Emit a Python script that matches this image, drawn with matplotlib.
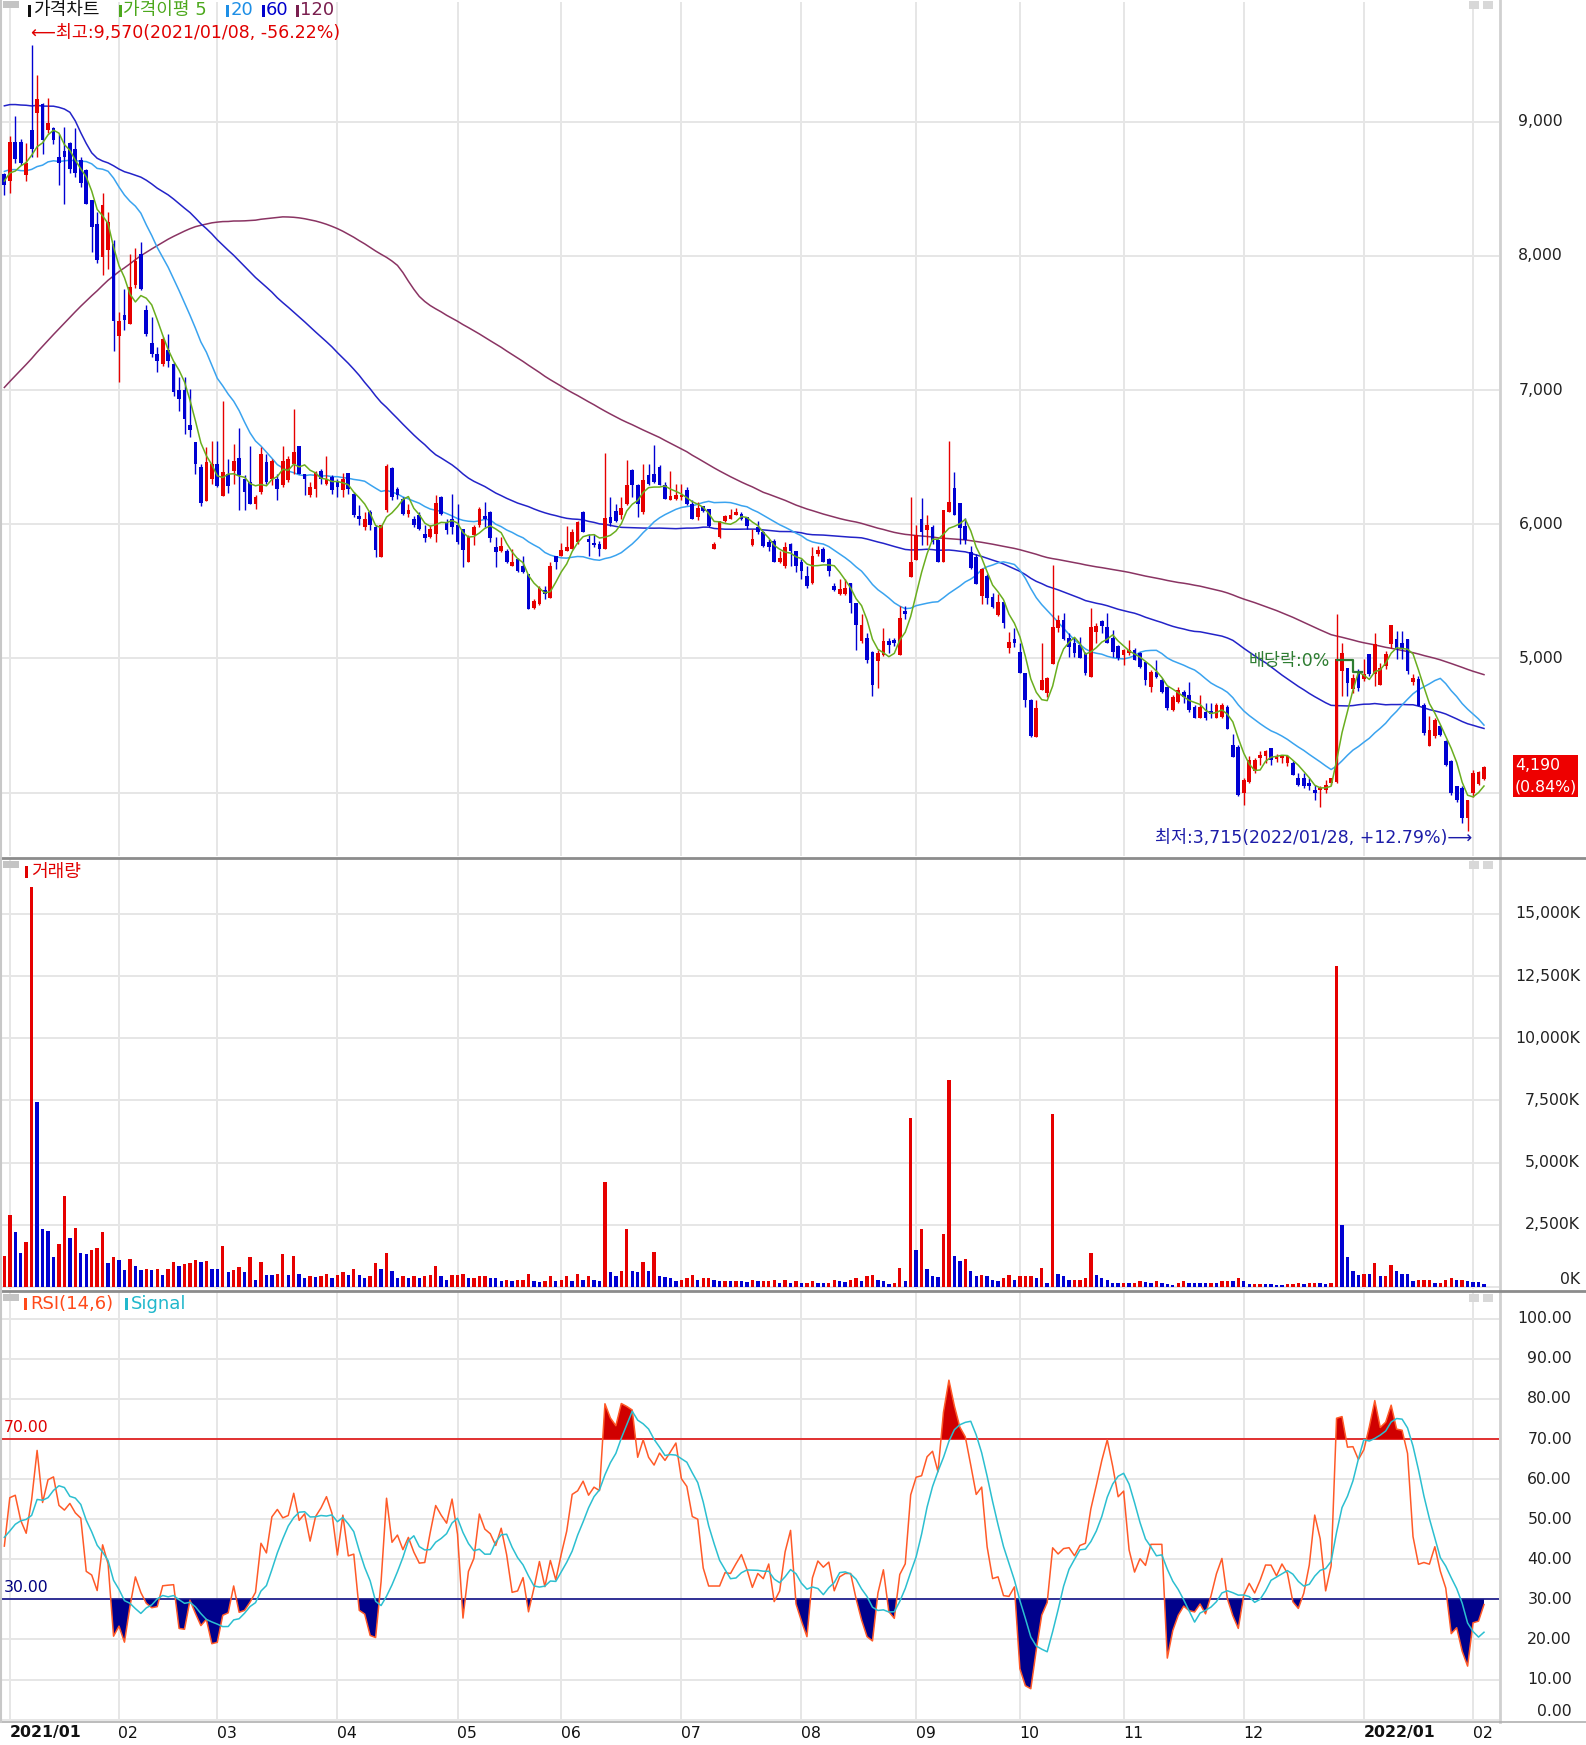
import numpy as np
import pandas as pd
import matplotlib
matplotlib.use("Agg")
import matplotlib.pyplot as plt
from matplotlib.transforms import blended_transform_factory
from matplotlib.patches import Rectangle
from matplotlib.lines import Line2D

plt.rcParams['font.family'] = ['DejaVu Sans', 'Noto Sans CJK KR']

# 휴장일 (KRX)
holidays = ['2020-12-31', '2021-01-01', '2021-02-11', '2021-02-12', '2021-03-01',
            '2021-05-05', '2021-05-19', '2021-08-16', '2021-09-20', '2021-09-21',
            '2021-09-22', '2021-10-04', '2021-10-11', '2021-12-31', '2022-01-31',
            '2022-02-01', '2022-02-02']

# closes before 2020/12/30 (only used to warm up the moving averages / RSI)
pre_closes = [3600, 3530, 3560, 3650, 3610, 3540, 3500, 3570, 3630, 3700, 3640, 3580, 3520, 3550,
              3610, 3660, 3590, 3540, 3570, 3620, 3680, 3630,
              4150, 4210, 4180, 4260, 4320, 4280, 4350, 4410, 4380, 4450, 4520, 4480, 4560, 4620,
              4950, 5400, 5300, 5650, 5900, 6200, 6050, 6350, 6100, 5900,
              5850, 5700, 5800, 5950, 5750, 5900, 6600, 6800, 6900, 7100, 7300, 7400, 7700, 7900, 8100,
              8300, 8700, 8900, 8800, 9100, 8900, 9200, 9000, 8900, 9200, 9500, 10100,
              12500, 13800, 13200, 12400,
              10400, 9600, 9100, 8800, 9000, 8700, 8500, 8800, 8600,
              8800, 8950, 9100, 8900, 8700, 8850, 9000, 8800, 8650, 8900, 8750, 8600, 8800, 8950,
              8750, 8600, 8700, 8850, 8700,
              8600, 8750, 8650, 8500, 8700, 8800, 8650, 8550, 8700, 8600, 8450, 8550, 8650, 8500, 8560]

# daily candles 2020/12/30 ~ 2022/02/07
opens = [8610, 8560, 8850, 8850, 8600, 8938, 9062, 9132, 8940, 8950,
         8740, 8780, 8838, 8800, 8714, 8640, 8415, 8240, 7992, 8040,
         8091, 7406, 7560, 7494, 7780, 8016, 7593, 7350, 7270, 7195,
         7300, 7195, 7000, 7000, 6740, 6610, 6430, 6174, 6336, 6448,
         6211, 6373, 6398, 6494, 6340, 6313, 6153, 6239, 6462, 6338,
         6338, 6289, 6326, 6449, 6585, 6375, 6214, 6264, 6400, 6301,
         6350, 6313, 6252, 6382, 6227, 6060, 5980, 6091, 5980, 5758,
         6103, 6417, 6264, 6190, 6079, 6042, 6066, 5930, 5906, 5930,
         6202, 6017, 6042, 5992, 5967, 5721, 5918, 5992, 6060, 6090,
         5828, 5800, 5802, 5690, 5740, 5690, 5628, 5378, 5403, 5510,
         5453, 5765, 5765, 5802, 5815, 5865, 6090, 5890, 5855, 5852,
         5815, 6050, 6102, 6065, 6152, 6407, 6290, 6090, 6370, 6377,
         6427, 6290, 6177, 6190, 6200, 6252, 6152, 6050, 6135, 6110,
         5815, 5902, 6027, 6040, 6065, 6077, 6052, 5845, 5977, 5940,
         5865, 5877, 5715, 5690, 5852, 5802, 5715, 5615, 5565, 5780,
         5815, 5740, 5540, 5477, 5477, 5565, 5410, 5127, 5152, 5045,
         4977, 5027, 5127, 5140, 5027, 5352, 5606, 5731, 6042, 5955,
         5980, 5880, 5718, 6092, 6267, 6155, 5990, 5795, 5752, 5465,
         5615, 5460, 5324, 5423, 5075, 5142, 5050, 4888, 4689, 4415,
         4763, 4739, 4958, 5224, 5286, 5149, 5112, 5100, 5037, 4863,
         5199, 5281, 5237, 5149, 5092, 5025, 5037, 5062, 5037, 4975,
         4788, 4900, 4838, 4788, 4614, 4676, 4751, 4726, 4639, 4552,
         4602, 4609, 4552, 4564, 4639, 4353, 4340, 3995, 4082, 4157,
         4257, 4269, 4332, 4250, 4260, 4220, 4220, 4107, 4107, 4070,
         4020, 4020, 4020, 4070, 4082, 4905, 4930, 4768, 4905, 4843,
         5030, 4880, 4805, 4943, 5105, 5147, 5117, 5142, 4823, 4843,
         4656, 4344, 4419, 4494, 4382, 4232, 4045, 4032, 3808, 3995,
         4065, 4100]

highs = [8620, 8890, 9040, 8870, 8840, 9570, 9350, 9140, 9175, 8960,
         8910, 8960, 8850, 8950, 8740, 8650, 8420, 8328, 8472, 8328,
         8120, 7581, 7755, 8016, 8060, 8104, 7630, 7543, 7320, 7394,
         7419, 7207, 7100, 7100, 7008, 6610, 6448, 6573, 6622, 6622,
         6921, 6485, 6597, 6720, 6363, 6585, 6214, 6573, 6523, 6487,
         6375, 6585, 6511, 6862, 6585, 6375, 6314, 6400, 6412, 6506,
         6363, 6338, 6380, 6382, 6239, 6140, 6091, 6103, 5992, 5992,
         6449, 6425, 6276, 6202, 6153, 6060, 6091, 5992, 5992, 6215,
         6209, 6042, 6227, 6153, 5967, 5918, 5992, 6128, 6165, 6097,
         5902, 5902, 5815, 5815, 5745, 5765, 5628, 5440, 5540, 5540,
         5720, 5765, 5860, 5990, 5965, 6027, 6095, 5927, 5927, 5877,
         6527, 6202, 6152, 6202, 6482, 6415, 6302, 6452, 6452, 6590,
         6440, 6315, 6395, 6302, 6302, 6277, 6177, 6165, 6135, 6115,
         5865, 6027, 6065, 6115, 6120, 6090, 6057, 5965, 6027, 5952,
         5890, 5890, 5802, 5865, 5860, 5802, 5740, 5690, 5827, 5840,
         5827, 5745, 5565, 5590, 5595, 5565, 5415, 5327, 5190, 5052,
         5065, 5227, 5152, 5152, 5390, 5390, 6205, 5993, 6192, 6067,
         5993, 5893, 6105, 6621, 6392, 6155, 6045, 5840, 5777, 5677,
         5627, 5490, 5477, 5423, 5199, 5224, 5112, 4888, 4694, 4689,
         5112, 4863, 5697, 5324, 5336, 5187, 5162, 5162, 5050, 5373,
         5261, 5286, 5336, 5212, 5100, 5070, 5137, 5075, 5050, 4975,
         4913, 4988, 4851, 4788, 4726, 4788, 4763, 4826, 4651, 4726,
         4664, 4664, 4664, 4664, 4651, 4440, 4353, 4107, 4269, 4257,
         4307, 4319, 4332, 4290, 4282, 4282, 4232, 4145, 4145, 4107,
         4057, 4045, 4095, 4107, 5329, 5117, 4930, 4880, 4918, 4993,
         5030, 5192, 4968, 5055, 5247, 5205, 5205, 5142, 4880, 4868,
         4668, 4569, 4556, 4506, 4394, 4244, 4045, 4045, 3945, 4170,
         4157, 4195]

lows = [8450, 8465, 8690, 8680, 8560, 8740, 8740, 8760, 8913, 8830,
        8527, 8390, 8614, 8590, 8515, 8385, 8030, 7947, 7854, 7905,
        7294, 7058, 7444, 7494, 7760, 7742, 7406, 7245, 7132, 7182,
        7170, 6958, 6846, 6673, 6647, 6373, 6137, 6170, 6300, 6274,
        6211, 6236, 6298, 6103, 6103, 6153, 6116, 6227, 6300, 6289,
        6178, 6276, 6314, 6375, 6375, 6219, 6202, 6202, 6301, 6289,
        6227, 6202, 6202, 6227, 6054, 5992, 5955, 5955, 5758, 5758,
        6091, 6178, 6190, 6066, 6054, 5980, 5955, 5868, 5894, 5868,
        6066, 5930, 5930, 5856, 5683, 5721, 5844, 5980, 5980, 5869,
        5678, 5790, 5710, 5685, 5640, 5635, 5365, 5365, 5395, 5440,
        5453, 5665, 5760, 5802, 5815, 5852, 5940, 5765, 5827, 5765,
        5815, 5990, 6015, 6040, 6145, 6202, 6052, 6077, 6295, 6310,
        6290, 6190, 6177, 6177, 6177, 6145, 6035, 6030, 6090, 5977,
        5815, 5895, 6020, 6040, 6065, 6030, 5965, 5840, 5927, 5827,
        5802, 5715, 5710, 5677, 5690, 5640, 5590, 5528, 5552, 5765,
        5715, 5615, 5502, 5470, 5470, 5340, 5065, 5115, 4965, 4720,
        4777, 5015, 5040, 5090, 5027, 5290, 5606, 5731, 5843, 5843,
        5856, 5718, 5718, 6092, 6067, 5856, 5852, 5665, 5552, 5402,
        5402, 5373, 5316, 5224, 5037, 5087, 4888, 4639, 4415, 4415,
        4763, 4714, 4958, 5199, 5137, 5012, 5012, 5000, 4875, 4863,
        5112, 5187, 5112, 5012, 4988, 4950, 5025, 4988, 4925, 4801,
        4751, 4851, 4739, 4614, 4609, 4664, 4664, 4602, 4552, 4552,
        4539, 4552, 4552, 4552, 4477, 4265, 3972, 3908, 4070, 4145,
        4207, 4220, 4207, 4230, 4220, 4200, 4132, 4045, 4032, 4020,
        3945, 3895, 3995, 4057, 4070, 4718, 4718, 4740, 4755, 4830,
        4868, 4793, 4798, 4918, 5080, 4993, 4993, 4880, 4805, 4643,
        4431, 4344, 4406, 4419, 4195, 3983, 3933, 3770, 3715, 3970,
        4057, 4090]

closes = [8530, 8850, 8720, 8690, 8690, 8800, 9167, 8863, 8990, 8863,
          8690, 8740, 8651, 8620, 8540, 8390, 8215, 7967, 8378, 8253,
          7518, 7518, 7520, 7767, 7960, 7755, 7419, 7270, 7220, 7381,
          7220, 6983, 6933, 6784, 6700, 6448, 6160, 6460, 6448, 6286,
          6386, 6286, 6473, 6363, 6240, 6153, 6202, 6523, 6313, 6474,
          6264, 6474, 6486, 6536, 6375, 6338, 6276, 6387, 6338, 6338,
          6252, 6276, 6338, 6264, 6066, 6042, 6042, 5992, 5807, 5992,
          6432, 6202, 6214, 6079, 6103, 5992, 5967, 5900, 5963, 6160,
          6079, 5955, 5980, 5869, 5807, 5906, 5980, 6110, 6042, 5900,
          5790, 5840, 5715, 5720, 5652, 5640, 5365, 5428, 5528, 5478,
          5690, 5715, 5810, 5828, 5940, 6015, 5940, 5870, 5845, 5815,
          6045, 6010, 6027, 6120, 6295, 6290, 6150, 6327, 6302, 6315,
          6290, 6190, 6210, 6220, 6215, 6152, 6040, 6120, 6102, 5990,
          5850, 6027, 6060, 6070, 6090, 6040, 5990, 5890, 5940, 5840,
          5827, 5715, 5745, 5832, 5802, 5690, 5652, 5540, 5765, 5810,
          5715, 5652, 5510, 5520, 5527, 5415, 5252, 5252, 4990, 4802,
          5040, 5127, 5102, 5115, 5302, 5327, 5718, 5918, 5943, 5993,
          5868, 5718, 6105, 6162, 6067, 5968, 5880, 5677, 5552, 5665,
          5452, 5386, 5423, 5261, 5124, 5112, 4888, 4689, 4420, 4627,
          4838, 4851, 5232, 5286, 5142, 5087, 5037, 5000, 4888, 5232,
          5242, 5242, 5112, 5050, 5000, 5060, 5062, 4988, 4938, 4838,
          4900, 4863, 4751, 4627, 4714, 4763, 4714, 4614, 4552, 4639,
          4552, 4589, 4651, 4651, 4477, 4265, 3980, 4095, 4244, 4239,
          4282, 4307, 4244, 4275, 4282, 4270, 4132, 4057, 4045, 4045,
          3995, 4032, 4057, 4107, 4993, 5042, 4818, 4855, 4780, 4880,
          4880, 5105, 4930, 5030, 5247, 5080, 5080, 4905, 4855, 4648,
          4444, 4469, 4544, 4431, 4207, 3995, 3945, 3808, 3945, 4145,
          4155, 4190]

# 거래량 (천주)
volumes = [1260, 2890, 2220, 1370, 1800, 16080, 7440, 2330, 2260, 1200,
           1730, 3660, 1970, 2390, 1370, 1320, 1500, 1560, 2220, 960,
           1200, 1090, 665, 1130, 840, 665, 730, 665, 730, 490,
           730, 1020, 840, 920, 970, 1090, 1000, 1030, 730, 720,
           1640, 600, 665, 800, 600, 1200, 290, 1020, 490, 480,
           530, 1330, 490, 1260, 530, 360, 425, 420, 430, 530,
           360, 465, 600, 465, 730, 465, 360, 425, 960, 730,
           1370, 650, 360, 425, 360, 425, 360, 425, 465, 840,
           425, 290, 465, 470, 530, 360, 365, 425, 430, 360,
           355, 225, 290, 225, 290, 295, 530, 225, 220, 230,
           425, 225, 290, 425, 225, 530, 290, 425, 290, 225,
           4220, 600, 425, 650, 2330, 650, 600, 1020, 650, 1420,
           425, 420, 360, 225, 290, 360, 465, 290, 360, 365,
           290, 225, 230, 225, 230, 225, 220, 290, 225, 230,
           235, 290, 175, 290, 175, 225, 175, 180, 225, 175,
           170, 175, 290, 225, 220, 290, 360, 225, 425, 465,
           290, 225, 105, 175, 770, 225, 6810, 1500, 2330, 730,
           425, 420, 2150, 8340, 1260, 1060, 1130, 650, 425, 465,
           425, 290, 225, 360, 465, 290, 425, 430, 435, 360,
           770, 175, 6950, 530, 425, 290, 295, 300, 360, 1370,
           465, 360, 290, 175, 170, 175, 170, 175, 225, 220,
           175, 225, 175, 105, 100, 175, 225, 175, 170, 165,
           160, 175, 170, 225, 230, 225, 360, 225, 105, 110,
           115, 110, 105, 100, 95, 105, 110, 175, 105, 175,
           180, 175, 105, 175, 12900, 2510, 1200, 650, 465, 530,
           525, 960, 425, 430, 890, 650, 530, 525, 225, 290,
           295, 300, 175, 180, 290, 360, 290, 295, 225, 220,
           215, 105]

price_ticks = [4000, 5000, 6000, 7000, 8000, 9000]
volume_ticks = [0, 2500, 5000, 7500, 10000, 12500, 15000]
rsi_ticks = [0, 10, 20, 30, 40, 50, 60, 70, 80, 90, 100]

dates = pd.bdate_range('2020-12-30', '2022-02-07')
dates = dates[~dates.isin(pd.to_datetime(holidays))]

O = np.array(opens, float)
Hh = np.array(highs, float)
L = np.array(lows, float)
C = np.array(closes, float)
V = np.array(volumes, float)
n = len(C)
x = np.arange(n)
npre = len(pre_closes)

all_close = pd.Series(pre_closes + closes, dtype=float)
ma = {p: all_close.rolling(p).mean().to_numpy()[npre:] for p in (5, 20, 60, 120)}

# RSI(14) with simple averages, signal = 6-day average
delta = all_close.diff()
gain = delta.clip(lower=0).rolling(14).mean()
loss = (-delta.clip(upper=0)).rolling(14).mean()
rsi_all = 100 * gain / (gain + loss)
sig_all = rsi_all.rolling(6).mean()
rsi = rsi_all.to_numpy()[npre:]
sig = sig_all.to_numpy()[npre:]

RED = '#e60000'
BLUE = '#0000d2'
GRID = '#e6e6e6'

W, H = 1586, 1745
fig = plt.figure(figsize=(W / 100, H / 100), dpi=100)
fig.patch.set_facecolor('white')


def rect(top, bottom, left=2, right=1499):
    return [left / W, 1 - bottom / H, (right - left) / W, (bottom - top) / H]


ax_p = fig.add_axes(rect(2, 856))
ax_v = fig.add_axes(rect(859, 1289))
ax_r = fig.add_axes(rect(1292, 1721))

month_idx = [i for i in range(1, n) if dates[i].month != dates[i - 1].month]

for ax in (ax_p, ax_v, ax_r):
    ax.set_xlim(-0.43, 273.75)
    for s in ax.spines.values():
        s.set_visible(False)
    ax.set_xticks([])
    ax.set_yticks([])
    for m in month_idx:
        ax.axvline(m, color=GRID, lw=1.4, zorder=0)

ax_p.set_ylim(3527, 9892)
ax_v.set_ylim(-80, 17203)
ax_r.set_ylim(-0.35, 106.7)

for t in price_ticks:
    ax_p.axhline(t, color=GRID, lw=1.4, zorder=0)
for t in volume_ticks:
    ax_v.axhline(t, color=GRID, lw=1.4, zorder=0)
for t in rsi_ticks:
    ax_r.axhline(t, color=GRID, lw=1.4, zorder=0)

# ---- 가격 캔들
up = C >= O
col = np.where(up, RED, BLUE)
ax_p.vlines(x, L, Hh, colors=col, lw=1.0, zorder=3)
body = np.maximum(np.abs(C - O), 12)
ax_p.bar(x, body, bottom=np.minimum(O, C), width=0.68, color=col, zorder=4, linewidth=0)

ax_p.plot(x, ma[120], color='#8a3463', lw=1.1, zorder=2)
ax_p.plot(x, ma[60], color='#2323c8', lw=1.1, zorder=2)
ax_p.plot(x, ma[20], color='#3aa3ef', lw=1.1, zorder=2)
ax_p.plot(x, ma[5], color='#6aae1f', lw=1.1, zorder=5)

# ---- 거래량 (red when volume rose vs previous day)
vprev = np.concatenate([[0], V[:-1]])
vcol = np.where(V > vprev, RED, BLUE)
ax_v.bar(x, V, width=0.62, color=vcol, linewidth=0, zorder=3)

# ---- RSI
ax_r.fill_between(x, rsi, 70, where=rsi > 70, interpolate=True, color='#d00000', lw=0, zorder=2)
ax_r.fill_between(x, rsi, 30, where=rsi < 30, interpolate=True, color='#00008c', lw=0, zorder=2)
ax_r.axhline(70, color='#e00000', lw=1.1, zorder=3)
ax_r.axhline(30, color='#000080', lw=1.1, zorder=3)
ax_r.plot(x, rsi, color='#ff5a28', lw=1.1, zorder=4)
ax_r.plot(x, sig, color='#2cbfd0', lw=1.1, zorder=4)

FS = 11.3

# right-hand axis labels
for ax, ticks, xr, fmt, zero_shift in ((ax_p, price_ticks, 1563, '{:,}', 0),
                                       (ax_v, volume_ticks, 1580, '{:,}K', 300),
                                       (ax_r, rsi_ticks, 1572, '{:.2f}', 1.9)):
    tr = blended_transform_factory(fig.transFigure, ax.transData)
    for t in ticks:
        if ax is ax_p and t == 4000:
            continue
        ty = t + zero_shift if t == 0 else t
        ax.text(xr / W, ty, fmt.format(t), transform=tr, ha='right', va='center',
                fontsize=FS, color='#222222', clip_on=False)

# date labels
trd = blended_transform_factory(ax_r.transData, fig.transFigure)
for m in month_idx:
    d = dates[m]
    if d.month == 1:
        ax_r.text(m - 0.1, 1 - 1733 / H, f'{d.year}/{d.month:02d}', transform=trd, ha='left',
                  va='center', fontsize=FS, fontweight='bold', color='#111111', clip_on=False)
    else:
        ax_r.text(m - 0.1, 1 - 1733 / H, f'{d.month:02d}', transform=trd, ha='left',
                  va='center', fontsize=FS, color='#111111', clip_on=False)


def ftext(px, py, s, **kw):
    fig.text(px / W, 1 - py / H, s, va='center', **kw)


def fbox(px, py, w, h, c):
    fig.add_artist(Rectangle((px / W, 1 - (py + h) / H), w / W, h / H, transform=fig.transFigure,
                             facecolor=c, edgecolor='none'))


def fline(xs, ys, c, lw=1.5):
    fig.add_artist(Line2D([v / W for v in xs], [1 - v / H for v in ys], transform=fig.transFigure,
                          color=c, lw=lw))


# frame
fline([1500, 1500], [0, 1722], '#d0d0d0', 2)
fline([0, W], [857.5, 857.5], '#8c8c8c', 2)
fline([0, W], [1290.5, 1290.5], '#8c8c8c', 2)
fline([0, W], [1722, 1722], '#b0b0b0', 1.2)
fline([1, 1], [0, 1722], '#c8c8c8', 1.5)

for top in (0, 860, 1293):
    fbox(3, top + 1, 16, 7, '#c4c4c4')
    fbox(1469, top + 1, 10, 8, '#d8d8d8')
    fbox(1483, top + 1, 10, 8, '#d8d8d8')

# header legend
HF = 13
items = [(28, 33, '가격차트', '#111111'), (119, 123, '가격이평 5', '#4ca81c'),
         (226, 231, '20', '#1e8fe6'), (262, 266, '60', '#0000cc'), (296, 300, '120', '#7a1f4f')]
for mx, tx, s, c in items:
    fbox(mx, 5, 3, 12, c)
    ftext(tx, 10, s, color=c, fontsize=HF)
AF = 12.5
ftext(31, 33, '⟵최고:9,570(2021/01/08, -56.22%)', color='#e00000', fontsize=AF)

fbox(25, 866, 3, 12, '#e00000')
ftext(31, 872, '거래량', color='#e00000', fontsize=HF)

fbox(24, 1298, 3, 12, '#ff4a1a')
ftext(30, 1304, 'RSI(14,6)', color='#ff4a1a', fontsize=HF)
fbox(125, 1298, 3, 12, '#22b8cc')
ftext(131, 1304, 'Signal', color='#22b8cc', fontsize=HF)

ftext(4, 1428, '70.00', color='#e00000', fontsize=FS)
ftext(4, 1588, '30.00', color='#000080', fontsize=FS)

ftext(1155, 838, '최저:3,715(2022/01/28, +12.79%)⟶', color='#1c1ca8', fontsize=AF)
ftext(1249, 661, '배당락:0%', color='#2e7d32', fontsize=AF)
fline([1337, 1353, 1353, 1362], [660, 660, 672, 672], '#2e7d32', 1.6)

# current price box
fbox(1513, 755, 65, 42, '#ee0000')
ftext(1515, 766, '4,190', color='white', fontsize=FS)
ftext(1515, 787, '(0.84%)', color='white', fontsize=FS)

fig.savefig('out.png', dpi=100, facecolor='white')
